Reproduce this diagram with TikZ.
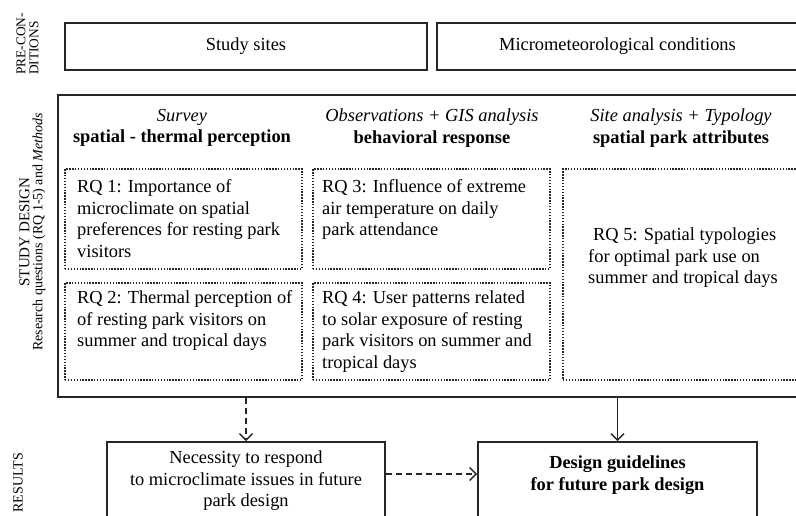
\documentclass[tikz,border=0pt]{standalone}
\usepackage{fontspec}
\setmainfont{Liberation Serif}
\usetikzlibrary{arrows.meta}
\begin{document}
\begin{tikzpicture}[x=1pt,y=-1pt,
  solidbox/.style={draw=black!85, line width=1.6pt, inner sep=0pt},
  dotbox/.style={draw=black!85, line width=1.4pt, dash pattern=on 1.4pt off 1.5pt, inner sep=0pt},
  body/.style={font=\fontsize{18.4}{21.6}\selectfont, inner sep=0pt},
  side/.style={font=\fontsize{14}{13}\selectfont, rotate=90, align=center, inner sep=0pt},
  arr/.style={draw=black!85, line width=1.5pt, -{Straight Barb[length=6.5pt,width=13pt]}},
  darr/.style={arr, dash pattern=on 6pt off 4pt}
]
\useasboundingbox (0,0) rectangle (796,515);
\fill[white] (0,0) rectangle (796,515);

% side labels
\node[side, align=left, font=\fontsize{13.4}{13}\selectfont] (lpre) at (27.5,44) {PRE-CON-\\DITIONS};
\node[side] (lstudy) at (32.5,232) {\fontsize{15}{13}\selectfont STUDY DESIGN\\Research questions (RQ 1-5) and \textit{Methods}};
\node[side, anchor=east] (lres) at (18,453) {RESULTS};

% preconditions
\node[solidbox, minimum width=362pt, minimum height=47pt, body] (sites) at (246,46.5) {Study sites};
\node[solidbox, minimum width=361pt, minimum height=47pt, body] (micro) at (617.5,46.5) {Micrometeorological conditions};

% study design frame
\node[solidbox, minimum width=742pt, minimum height=302pt] (study) at (429,246) {};

% column headers
\node[body, align=center, anchor=north] (h1) at (182,109) {\textit{Survey}\\\textbf{spatial - thermal perception}};
\node[body, align=center, anchor=north] (h2) at (432,109) {\textit{Observations + GIS analysis}\\\textbf{behavioral response}};
\node[body, align=center, anchor=north] (h3) at (681,109) {\textit{Site analysis + Typology}\\\textbf{spatial park attributes}};

% RQ boxes
\node[dotbox, minimum width=237pt, minimum height=100pt] (rq1) at (183.5,219) {};
\node[dotbox, minimum width=237pt, minimum height=97pt] (rq2) at (183.5,331.5) {};
\node[dotbox, minimum width=237pt, minimum height=100pt] (rq3) at (431.5,219) {};
\node[dotbox, minimum width=237pt, minimum height=97pt] (rq4) at (431.5,331.5) {};
\node[dotbox, minimum width=237pt, minimum height=211pt] (rq5) at (681.5,274.5) {};

\node[body, align=left, anchor=north west] (t1) at (77,179.5) {RQ 1: Importance of\\microclimate on spatial\\preferences for resting park\\visitors};
\node[body, align=left, anchor=north west] (t2) at (77,290.6) {RQ 2: Thermal perception of\\of resting park visitors on\\summer and tropical days};
\node[body, align=left, anchor=north west] (t3) at (322,179.5) {RQ 3: Influence of extreme\\air temperature on daily\\park attendance};
\node[body, align=left, anchor=north west] (t4) at (322,290.6) {RQ 4: User patterns related\\to solar exposure of resting\\park visitors on summer and\\tropical days};
\node[body, align=left, anchor=north west] (t5) at (588,227.6) {\hspace*{5pt}RQ 5: Spatial typologies\\for optimal park use on\\summer and tropical days};

% results
\node[solidbox, minimum width=278pt, minimum height=78pt] (nec) at (246,481) {};
\node[body, align=center, anchor=north] (tnec) at (246,450.6) {Necessity to respond\\to microclimate issues in future\\park design};
\node[solidbox, minimum width=279pt, minimum height=78pt] (guide) at (617.5,481) {};
\node[body, align=center, anchor=north] (tguide) at (617.5,455.6) {\textbf{Design guidelines}\\\textbf{for future park design}};

% connectors
\draw[darr] (nec.north |- study.south) -- (nec.north);
\draw[arr] (guide.north |- study.south) -- (guide.north);
\draw[darr] ([yshift=7pt]nec.east) -- ([yshift=7pt]guide.west);
\end{tikzpicture}
\end{document}
